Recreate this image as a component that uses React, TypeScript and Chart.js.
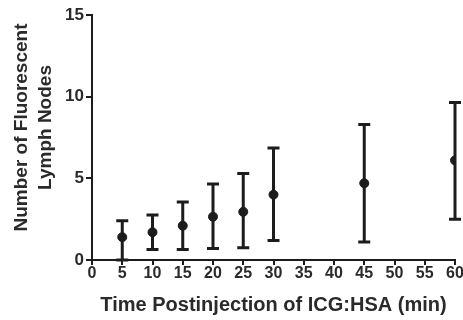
import React, { useEffect, useRef } from "react";
import { Chart, registerables } from "chart.js";

Chart.register(...registerables);

const times = [5, 10, 15, 20, 25, 30, 45, 60];
const means = [1.4, 1.7, 2.1, 2.65, 2.95, 4.0, 4.7, 6.1];
const upper = [2.4, 2.75, 3.55, 4.65, 5.3, 6.85, 8.3, 9.65];
const lower = [0.0, 0.65, 0.65, 0.7, 0.75, 1.2, 1.1, 2.5];

const xTitle = "Time Postinjection of ICG:HSA (min)";
const yTitle = ["Number of Fluorescent", "Lymph Nodes"];

const INK = "#1c1c1c";
const TXT = "#2a2a2a";
const FONT = "'Liberation Sans', Arial, sans-serif";

const errorBars = {
  id: "errorBars",
  afterDatasetsDraw(chart: any) {
    const { ctx, scales } = chart;
    const xs = scales.x;
    const ys = scales.y;
    ctx.save();
    ctx.strokeStyle = INK;
    ctx.lineWidth = 3;
    ctx.lineCap = "butt";
    for (let i = 0; i < times.length; i++) {
      const x = xs.getPixelForValue(times[i]);
      const yt = ys.getPixelForValue(upper[i]);
      const yb = ys.getPixelForValue(lower[i]);
      ctx.beginPath();
      ctx.moveTo(x, yt);
      ctx.lineTo(x, yb);
      ctx.moveTo(x - 6, yt);
      ctx.lineTo(x + 6, yt);
      ctx.moveTo(x - 6, yb);
      ctx.lineTo(x + 6, yb);
      ctx.stroke();
    }
    ctx.restore();
  },
};

const yTitlePlugin = {
  id: "yTitlePlugin",
  afterDraw(chart: any) {
    const { ctx } = chart;
    const area = chart.chartArea;
    const cy = (area.top + area.bottom) / 2 - 10;
    ctx.save();
    ctx.fillStyle = TXT;
    ctx.font = `bold 19px ${FONT}`;
    ctx.textAlign = "center";
    ctx.textBaseline = "middle";
    ctx.translate(22, cy);
    ctx.rotate(-Math.PI / 2);
    yTitle.forEach((line, i) => {
      ctx.fillText(line, 0, i * 24);
    });
    ctx.restore();
  },
};

export default function App() {
  const ref = useRef<HTMLCanvasElement | null>(null);
  useEffect(() => {
    if (!ref.current) return;
    const chart = new Chart(ref.current, {
      type: "scatter",
      data: {
        datasets: [
          {
            data: times.map((t, i) => ({ x: t, y: means[i] })),
            backgroundColor: INK,
            borderColor: INK,
            pointRadius: 4.5,
            pointHoverRadius: 4.5,
          },
        ],
      },
      plugins: [errorBars, yTitlePlugin],
      options: {
        animation: false,
        responsive: true,
        maintainAspectRatio: false,
        layout: { padding: { top: 15, right: 8, left: 0, bottom: 0 } },
        plugins: { legend: { display: false }, tooltip: { enabled: false } },
        scales: {
          x: {
            type: "linear",
            min: 0,
            max: 60,
            afterFit: (s: any) => {
              s.height = 60;
            },
            ticks: {
              stepSize: 5,
              color: TXT,
              padding: -1,
              font: { family: FONT, size: 16, weight: "bold" },
              maxRotation: 0,
              autoSkip: false,
            },
            grid: {
              drawOnChartArea: false,
              drawTicks: true,
              tickLength: 5,
              color: INK,
              lineWidth: 2,
            },
            border: { color: INK, width: 2 },
            title: {
              display: true,
              text: xTitle,
              color: TXT,
              font: { family: FONT, size: 20, weight: "bold" },
              padding: { top: 0, bottom: 3 },
            },
          },
          y: {
            min: 0,
            max: 15,
            afterFit: (s: any) => {
              s.width = 92;
            },
            ticks: {
              stepSize: 5,
              color: TXT,
              padding: 2,
              font: { family: FONT, size: 17, weight: "bold" },
            },
            grid: {
              drawOnChartArea: false,
              drawTicks: true,
              tickLength: 6,
              color: INK,
              lineWidth: 2,
            },
            border: { color: INK, width: 2 },
            title: { display: false, text: yTitle },
          },
        },
      },
    });
    return () => chart.destroy();
  }, []);
  return (
    <div style={{ position: "fixed", left: 0, top: 0, width: 463, height: 320, background: "#fff" }}>
      <canvas ref={ref} />
    </div>
  );
}
